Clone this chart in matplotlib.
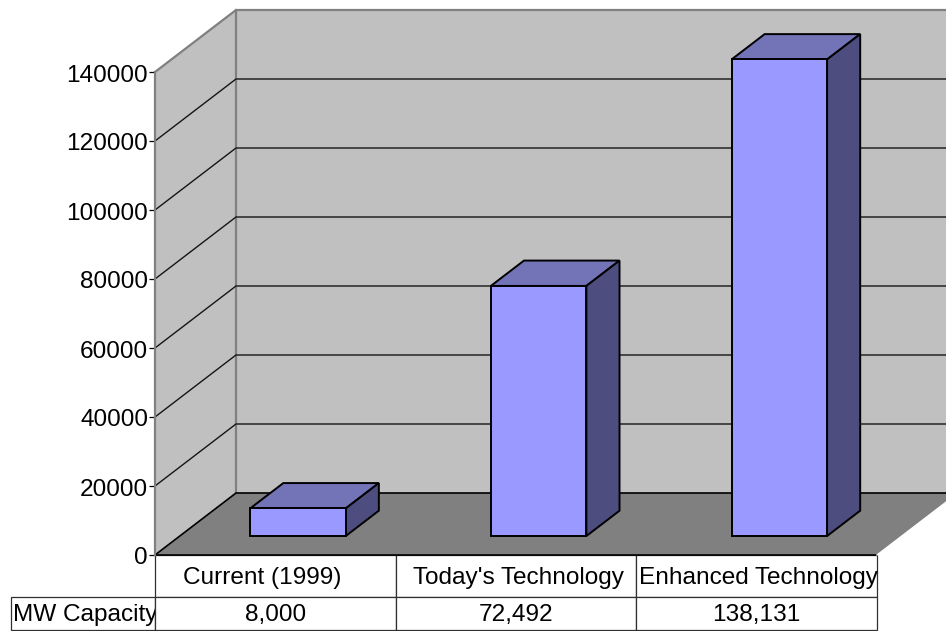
import matplotlib
matplotlib.use("Agg")
import matplotlib.pyplot as plt
from matplotlib.patches import Polygon
from matplotlib.transforms import Affine2D

plt.rcParams['font.family'] = ['Liberation Sans', 'DejaVu Sans']

categorias = ["Current (1999)", "Today's Technology", "Enhanced Technology"]
valores = [8000, 72492, 138131]
valores_txt = ["8,000", "72,492", "138,131"]
linha_nome = "MW Capacity"
ticks = [0, 20000, 40000, 60000, 80000, 100000, 120000, 140000]

W, H = 946, 631
# frente do grafico em pixels
x0, x1, y0, y1 = 155, 877, 555, 72
px_x = 3 / (x1 - x0)
px_y = 140000 / (y0 - y1)
# profundidade total do "3D"
prof_x = 81 * px_x
prof_y = 62 * px_y

fig = plt.figure(figsize=(W / 100, H / 100), dpi=100, facecolor='white')
ax = fig.add_axes([x0 / W, 1 - y0 / H, (x1 - x0) / W, (y0 - y1) / H])
ax.set_xlim(0, 3)
ax.set_ylim(0, 140000)
ax.patch.set_visible(False)


def pt(x, v, d=0.0):
    return (x + d * prof_x, v + d * prof_y)


def poli(pts, **kw):
    p = Polygon(pts, closed=True, clip_on=False, **kw)
    ax.add_patch(p)


# paredes e chao
poli([pt(0, 0, 1), pt(3, 0, 1), pt(3, 140000, 1), pt(0, 140000, 1)],
     facecolor='#C0C0C0', edgecolor='none', zorder=1)
poli([pt(0, 0), pt(0, 0, 1), pt(0, 140000, 1), pt(0, 140000)],
     facecolor='#C0C0C0', edgecolor='none', zorder=1)
poli([pt(0, 0), pt(3, 0), pt(3, 0, 1), pt(0, 0, 1)],
     facecolor='#808080', edgecolor='none', zorder=1.2)

# bordas cinza
cinza = dict(color='#808080', lw=1.6, clip_on=False, zorder=1.5)
ax.plot(*zip(pt(0, 140000), pt(0, 140000, 1), pt(3, 140000, 1)), **cinza)
ax.plot(*zip(pt(0, 0, 1), pt(0, 140000, 1)), **cinza)

# grade
for t in ticks[1:-1]:
    ax.plot(*zip(pt(0, t), pt(0, t, 1), pt(3, t, 1)), color='#151515', lw=1.0,
            clip_on=False, zorder=1.6)
ax.plot(*zip(pt(0, 0), pt(0, 0, 1), pt(3, 0, 1)), color='black', lw=1.2,
        clip_on=False, zorder=1.6)
ax.plot(*zip(pt(0, 0), pt(3, 0)), color='black', lw=1.2, clip_on=False, zorder=1.6)
ax.plot(*zip(pt(3, 0), pt(3, 0, 1)), color='white', lw=1.0, clip_on=False, zorder=1.6)

# barras
larg = 0.397
d_a, d_b = 0.306, 0.715
borda = dict(edgecolor='black', linewidth=1.4, joinstyle='miter', zorder=3)
for i, v in enumerate(valores):
    esq = i + 0.5 - 0.009 - larg / 2
    dir_ = esq + larg
    poli([pt(esq, v, d_a), pt(dir_, v, d_a), pt(dir_, v, d_b), pt(esq, v, d_b)],
         facecolor='#7373B8', **borda)
    poli([pt(dir_, 0, d_a), pt(dir_, 0, d_b), pt(dir_, v, d_b), pt(dir_, v, d_a)],
         facecolor='#4D4D80', **borda)
    poli([pt(esq, 0, d_a), pt(dir_, 0, d_a), pt(dir_, v, d_a), pt(esq, v, d_a)],
         facecolor='#9999FF', **borda)

# eixos
for lado in ['top', 'right', 'bottom']:
    ax.spines[lado].set_visible(False)
ax.spines['left'].set_color('#808080')
ax.spines['left'].set_linewidth(1.6)
ax.set_xticks([])
ax.set_yticks(ticks)
ax.tick_params(axis='y', length=4.5, width=0.9, color='black', labelsize=17.6, pad=0.5)
for rot in ax.get_yticklabels():
    rot.set_transform(rot.get_transform() + Affine2D().translate(0, -1))

# tabela: o bbox vale so para a grade, o rotulo da linha fica fora
# rotulo da linha criado a mao porque rowLabels forca largura automatica
tab = ax.table(cellText=[valores_txt], colLabels=categorias,
               colWidths=[1 / 3] * 3, cellLoc='center',
               bbox=[0, -75 / 483, 1, 75 / 483])
tab.add_cell(1, -1, width=144 / 722, height=33, text=linha_nome, loc='left')
tab.auto_set_font_size(False)
tab.set_fontsize(17.6)
for (lin, col), cel in tab.get_celld().items():
    cel.set_edgecolor('#303030')
    cel.set_linewidth(0.9)
    cel.set_facecolor('white')
    cel.set_height(42 if lin == 0 else 33)
    # texto da celula esta em pixels: desce 2
    cel.get_text().set_transform(Affine2D().translate(0, -2))
    if col == -1:
        cel.PAD = 0.012
# rotulo da primeira coluna fica um pouco a esquerda
cel = tab[(0, 0)]
cel.get_text().set_ha('left')
cel.PAD = 28 / 240.67
tab[(0, 2)].get_text().set_transform(Affine2D().translate(2, -2))
tab[(0, 1)].get_text().set_transform(Affine2D().translate(2, -2))

fig.savefig('out.png', dpi=100, facecolor='white')
